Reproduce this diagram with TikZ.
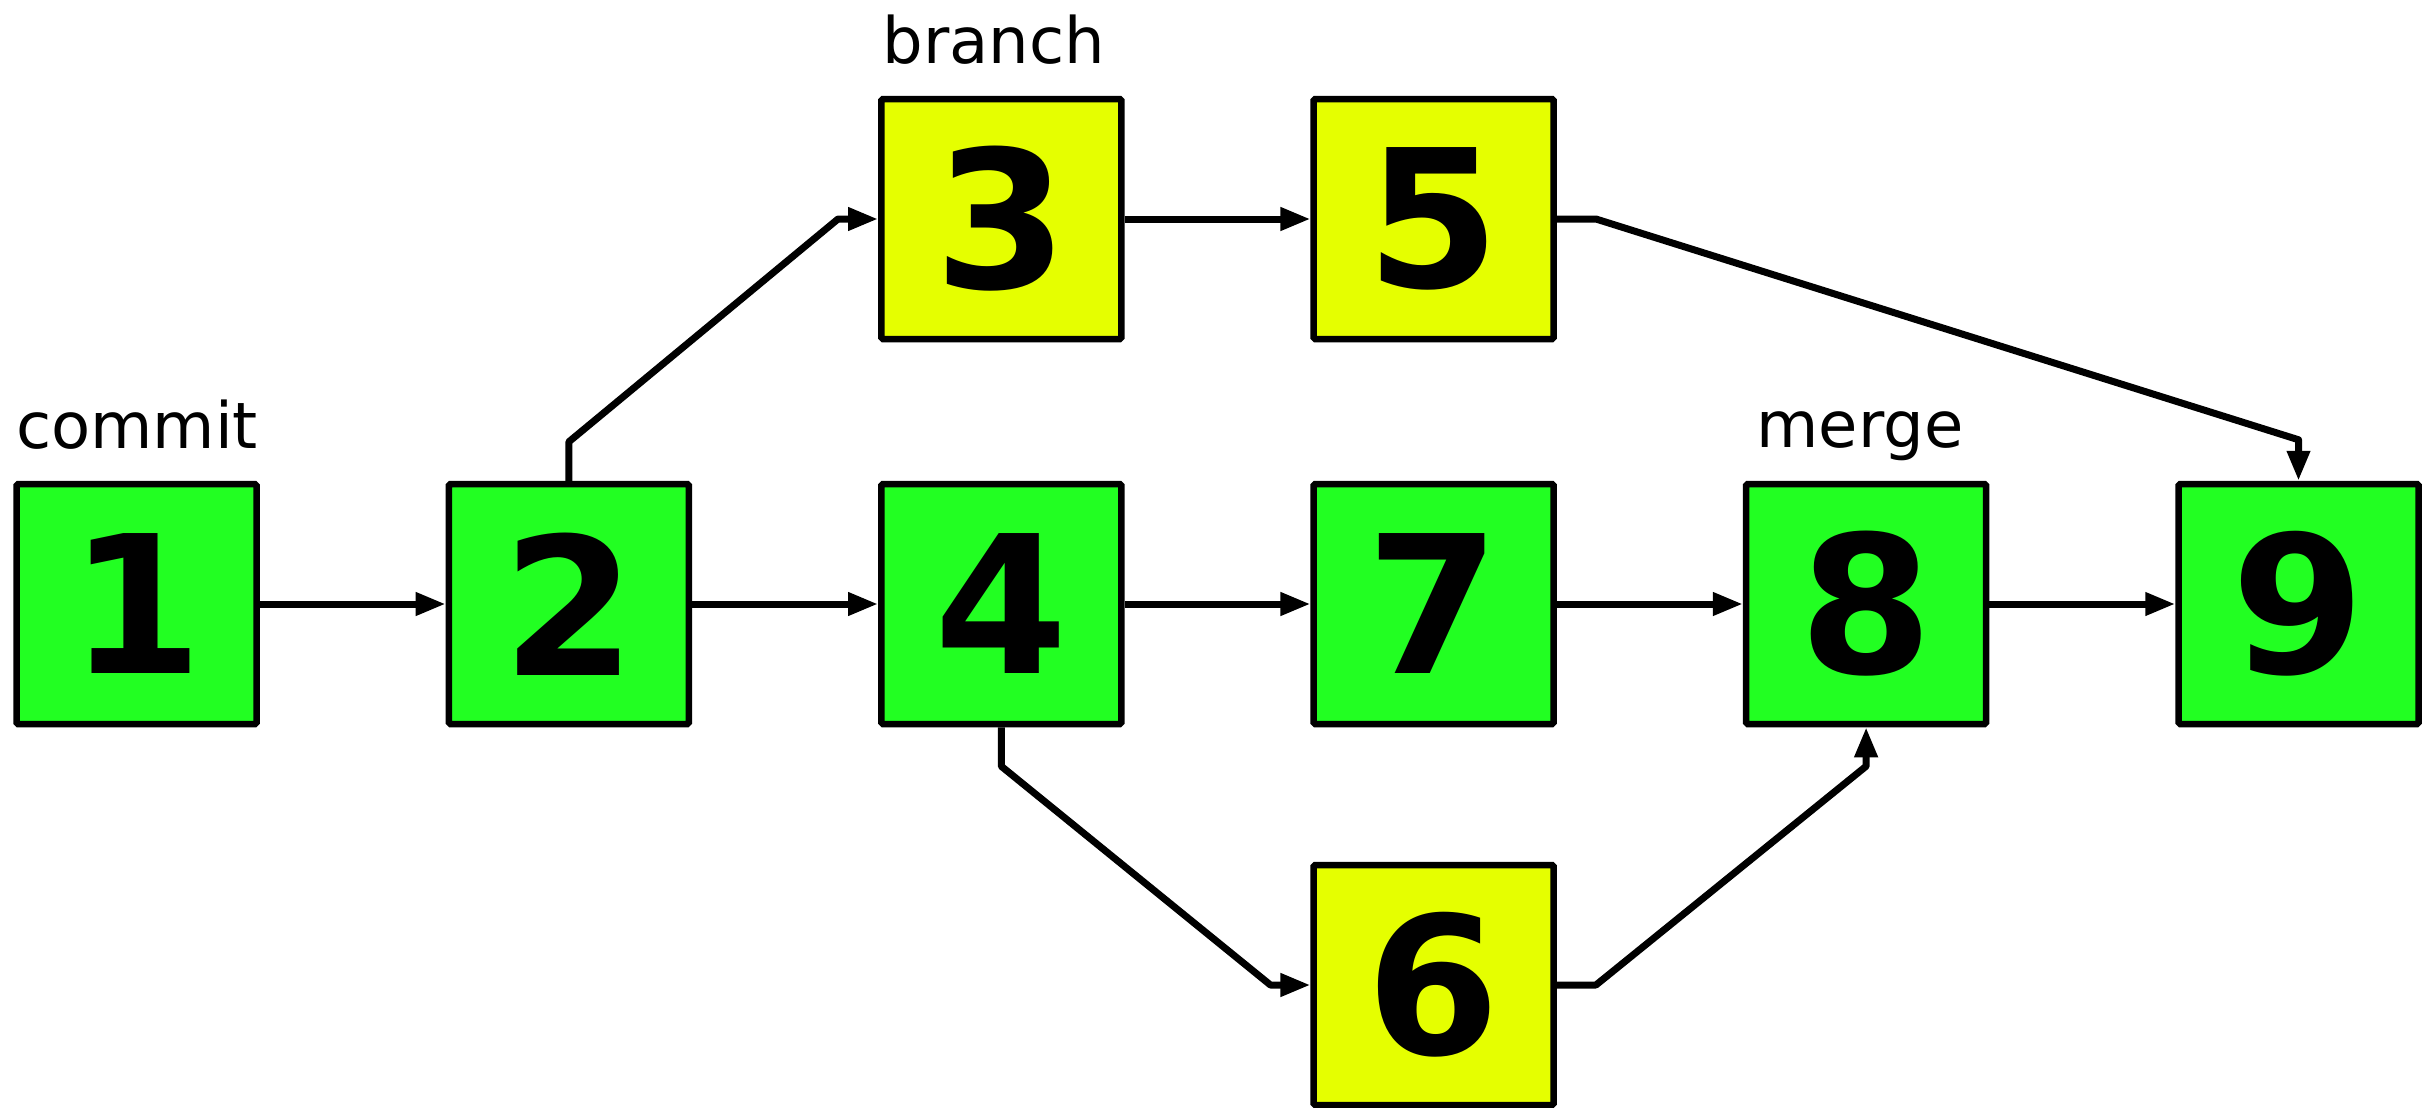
\documentclass[tikz,border=0pt]{standalone}
\usepackage{fontspec}
\setmainfont{DejaVu Sans}
\usetikzlibrary{arrows.meta,calc}
\definecolor{gitgreen}{RGB}{34,255,34}
\definecolor{gityellow}{RGB}{229,255,0}
\begin{document}
\begin{tikzpicture}[x=0.5pt,y=-0.5pt,
  commitbox/.style={draw=black, line width=3.25pt, minimum width=120pt, minimum height=120pt,
    inner sep=0pt, font=\fontsize{96}{96}\selectfont\bfseries, rounded corners=0.8pt},
  mainbox/.style={commitbox, fill=gitgreen},
  sidebox/.style={commitbox, fill=gityellow},
  link/.style={draw=black, line width=3.5pt, line join=round,
    -{Triangle[length=15pt,width=11pt]}},
  tag/.style={font=\fontsize{32}{32}\selectfont, anchor=base, inner sep=0pt}]
\useasboundingbox (0,0) rectangle (2433,1108);
% commits
\node[mainbox] (n1) at (136.5,604) {1};
\node[mainbox] (n2) at (568.9,604) {2};
\node[sidebox] (n3) at (1001.3,219) {3};
\node[mainbox] (n4) at (1001.3,604) {4};
\node[sidebox] (n5) at (1433.7,219) {5};
\node[sidebox] (n6) at (1433.7,985) {6};
\node[mainbox] (n7) at (1433.7,604) {7};
\node[mainbox] (n8) at (1866.1,604) {8};
\node[mainbox] (n9) at (2298.5,604) {9};
% labels
\node[tag] (lcommit) at (137,448) {commit};
\node[tag] (lbranch) at (994,63) {branch};
\node[tag] (lmerge) at (1860,447) {merge};
% links
\draw[link] (n1.east) -- (n2.west);
\draw[link] (n2.east) -- (n4.west);
\draw[link] (n4.east) -- (n7.west);
\draw[link] (n7.east) -- (n8.west);
\draw[link] (n8.east) -- (n9.west);
\draw[link] (n3.east) -- (n5.west);
\draw[link] (n2.north) -- ++(0,-39) -- ($(n3.west)+(-40,0)$) -- (n3.west);
\draw[link] (n5.east) -- ++(39,0) -- ($(n9.north)+(0,-41)$) -- (n9.north);
\draw[link] (n4.south) -- ++(0,39) -- ($(n6.west)+(-40,0)$) -- (n6.west);
\draw[link] (n6.east) -- ++(39,0) -- ($(n8.south)+(0,39)$) -- (n8.south);
\end{tikzpicture}
\end{document}
